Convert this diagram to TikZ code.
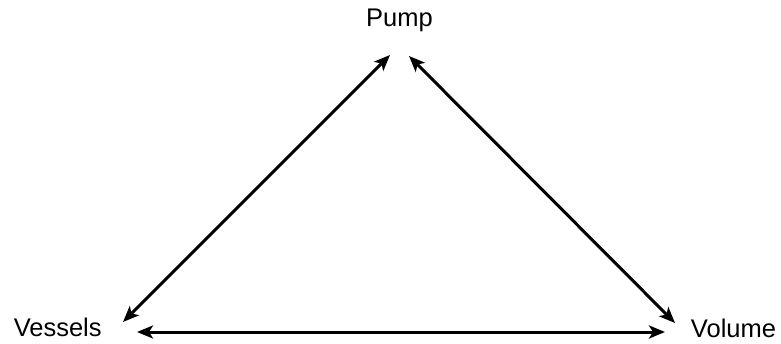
\documentclass[tikz,border=0pt]{standalone}
\usepackage{fontspec}
\setmainfont{Liberation Sans}
\usetikzlibrary{arrows.meta,positioning,calc}

\begin{document}
\begin{tikzpicture}[
    x=1pt, y=1pt,
    label/.style={inner sep=0pt, anchor=base, font=\fontsize{25.5}{30}\selectfont},
    arrow/.style={{Stealth[length=16pt,width=13pt,inset=4pt]}-{Stealth[length=16pt,width=13pt,inset=4pt]}, line width=3pt},
]
    \useasboundingbox (0,0) rectangle (781,343);
    \node[label] (pump) at (399.5,316) {Pump};
    \node[label] (vessels) at (57.7,6.3) {Vessels};
    \node[label] (volume) at (733.5,6) {Volume};

    \draw[arrow] ([shift={(65.3,14.7)}]vessels.base) -- ([shift={(-9.5,-28)}]pump.base);
    \draw[arrow] ([shift={(9.5,-29)}]pump.base) -- ([shift={(-58.5,14)}]volume.base);
    \draw[arrow] ([shift={(79.3,4.7)}]vessels.base) -- ([shift={(-68.5,5)}]volume.base);
\end{tikzpicture}
\end{document}
